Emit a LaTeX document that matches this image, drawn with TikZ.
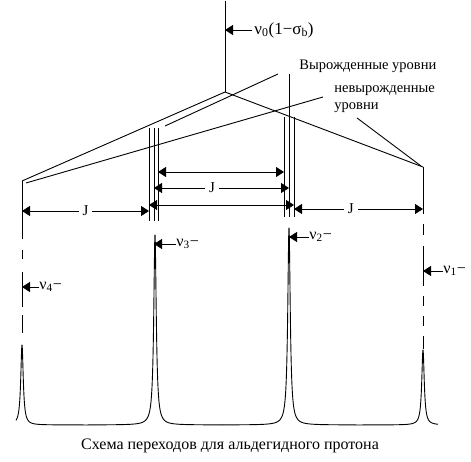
\documentclass[tikz,border=0pt]{standalone}
\usepackage{fontspec}
\setmainfont{Liberation Serif}
\usetikzlibrary{arrows.meta,positioning}

\begin{document}
\begin{tikzpicture}[x=1pt, y=-1pt, line width=0.9pt,
    tip/.style={-{Triangle[length=8pt,width=10pt]}},
    dim/.style={{Triangle[length=8pt,width=10pt]}-{Triangle[length=8pt,width=10pt]}},
    lbl/.style={font=\fontsize{14.5}{17}\selectfont, inner sep=1pt},
    nulbl/.style={font=\fontsize{16}{18}\selectfont, inner sep=0pt, anchor=mid west},
    jlbl/.style={font=\fontsize{15}{17}\selectfont, fill=white, inner xsep=4pt, inner ysep=0pt}]
    \useasboundingbox (0,0) rectangle (471,462);

    % levels
    \coordinate (top) at (225,1);
    \coordinate (apex) at (225,92);
    \coordinate (lend) at (22,181);
    \coordinate (rend) at (423,167);
    \coordinate (l1) at (149,128);  \coordinate (l1b) at (149,221);
    \coordinate (l2) at (154,128);  \coordinate (l2b) at (154,221);
    \coordinate (l3) at (158,128);  \coordinate (l3b) at (158,221);
    \coordinate (r1) at (284,117);  \coordinate (r1b) at (284,217);
    \coordinate (r2) at (289,74);   \coordinate (r2b) at (289,217);
    \coordinate (r3) at (294,117);  \coordinate (r3b) at (294,217);
    \coordinate (pk4) at (22,345);
    \coordinate (pk1) at (423,350);

    \draw (top) -- (apex);
    \draw (apex) -- (lend);
    \draw (apex) -- (rend);
    \foreach \n in {l1,l2,l3,r1,r2,r3}
        \draw (\n) -- (\n b);
    \draw[dash pattern=on 58pt off 11pt on 9pt off 13pt on 35pt off 8pt on 18pt off 12pt] (lend) -- (pk4);
    \draw[dash pattern=on 47pt off 10pt on 11pt off 11pt on 40pt off 10pt on 10pt off 10pt on 10pt off 10pt on 13pt off 1pt] (rend) -- (pk1);

    % labels
    \node[font=\fontsize{17}{20}\selectfont, inner sep=2pt, anchor=west] (nu0) at (252,30) {ν\textsubscript{0}(1−σ\textsubscript{b})};
    \draw[tip] (nu0.west) -- (apex |- nu0.west);

    \node[lbl, anchor=west] (deg) at (298,66) {Вырожденные уровни};
    \node[lbl, anchor=north west, align=left] (ndeg) at (333,84) {невырожденные\\уровни};
    \coordinate (p1a) at (278,74);  \coordinate (p1b) at (165,126);
    \coordinate (p2a) at (323,97);  \coordinate (p2b) at (26,183);
    \coordinate (p3a) at (357,118); \coordinate (p3b) at (421,166);
    \draw (p1a) -- (p1b);
    \draw (p2a) -- (p2b);
    \draw (p3a) -- (p3b);

    % splittings
    \draw[dim] (l3 |- 0,172) -- (r1 |- 0,172);
    \draw[dim] (l2 |- 0,188) -- node[jlbl, pos=0.43] {J} (r2 |- 0,188);
    \draw[dim] (l1 |- 0,205) -- (r3 |- 0,205);
    \draw[dim] (lend |- 0,211) -- node[jlbl] {J} (l1 |- 0,211);
    \draw[dim] (r3 |- 0,209) -- node[jlbl, pos=0.44] {J} (rend |- 0,209);

    % transitions
    \node[nulbl] (nu4) at (39,287) {ν\textsubscript{4}−};
    \node[nulbl] (nu3) at (176,244) {ν\textsubscript{3}−};
    \node[nulbl] (nu2) at (309,237) {ν\textsubscript{2}−};
    \node[nulbl] (nu1) at (443,271) {ν\textsubscript{1}−};
    \draw[tip] (nu4.mid west) -- (lend |- nu4.mid west);
    \draw[tip] (nu3.mid west) -- (l2 |- nu3.mid west);
    \draw[tip] (nu2.mid west) -- (r2 |- nu2.mid west);
    \draw[tip] (nu1.mid west) -- (rend |- nu1.mid west);

    % spectrum
    \foreach \xc/\ta/\tb/\h in {22/-75.96/88.70/80, 155/-88.72/88.72/190,
                                289/-88.72/88.72/197, 423/-88.72/84.29/75}
        \draw[line join=round] plot[domain=\ta:\tb, samples=241, variable=\t]
            ({\xc+1.5*tan(\t)}, {425-\h*cos(\t)^2});

    \node[font=\fontsize{16}{18}\selectfont, inner sep=1pt] (cap) at (230,446) {Схема переходов для альдегидного протона};
\end{tikzpicture}
\end{document}
